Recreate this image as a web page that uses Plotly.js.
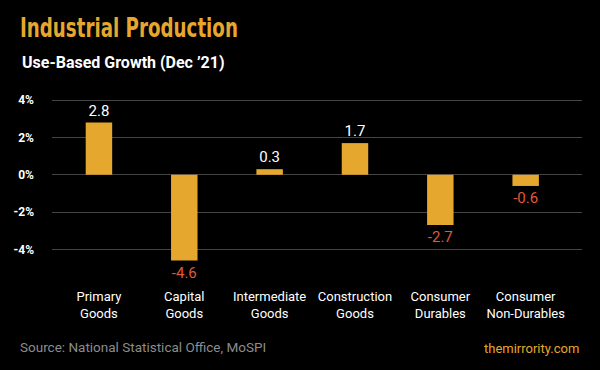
<!DOCTYPE html>
<html>
<head>
<meta charset="utf-8">
<script src="https://cdn.plot.ly/plotly-3.0.1.min.js"></script>
<style>html,body{margin:0;padding:0;background:#000;}#chart{width:600px;height:370px;}</style>
</head>
<body>
<div id="chart"></div>
<script>
const categories = ["Primary<br>Goods", "Capital<br>Goods", "Intermediate<br>Goods", "Construction<br>Goods", "Consumer<br>Durables", "Consumer<br>Non-Durables"];
const growth = [2.8, -4.6, 0.3, 1.7, -2.7, -0.6];
const yTickVals = [-4, -2, 0, 2, 4];
const yTickText = ["-4%", "-2%", "0%", "2%", "4%"];

const ORANGE = "#E6A72E";
const RED = "#E0583C";

const trace = {
  type: "bar",
  x: categories,
  y: growth,
  width: 0.31,
  marker: {color: ORANGE},
  text: growth.map(v => v.toFixed(1)),
  textposition: "outside",
  constraintext: "none",
  cliponaxis: false,
  textfont: {family: "Roboto, sans-serif", size: 15, color: growth.map(v => v < 0 ? RED : "#FFFFFF")},
  hoverinfo: "none"
};

const layout = {
  width: 600, height: 370,
  paper_bgcolor: "#000", plot_bgcolor: "#000",
  margin: {l: 52, r: 18, t: 90, b: 100},
  showlegend: false,
  font: {family: "Roboto, sans-serif", color: "#fff"},
  title: {
    text: "Industrial Production",
    x: 20/600, xanchor: "left", xref: "container",
    y: 1 - 28/370, yanchor: "middle", yref: "container",
    font: {family: "'DejaVu Sans Condensed', 'Liberation Sans Narrow', sans-serif", size: 26, weight: "bold", color: ORANGE}
  },
  xaxis: {
    range: [-0.55, 5.66],
    showgrid: false, zeroline: false, showline: false, ticks: "",
    tickfont: {family: "Roboto, sans-serif", size: 13, color: "#fff"},
    ticklabelstandoff: 17,
    fixedrange: true
  },
  yaxis: {
    range: [-5.11, 4.55],
    tickvals: yTickVals, ticktext: yTickText,
    showgrid: true, gridcolor: "#444", gridwidth: 1,
    zeroline: true, zerolinecolor: "#444", zerolinewidth: 1,
    showline: false, ticks: "",
    tickfont: {family: "Roboto, sans-serif", size: 12, weight: "bold", color: "#fff"},
    ticklabelstandoff: 17,
    fixedrange: true
  },
  annotations: [
    {text: "Use-Based Growth (Dec ’21)", xref: "paper", yref: "paper", x: (20-52)/530, y: (270-62)/180,
     xanchor: "left", yanchor: "middle", showarrow: false,
     font: {family: "Roboto, sans-serif", size: 16, weight: "bold", color: "#fff"}},
    {text: "Source: National Statistical Office, MoSPI", xref: "paper", yref: "paper", x: (18-52)/530, y: (270-347)/180,
     xanchor: "left", yanchor: "middle", showarrow: false,
     font: {family: "Roboto, sans-serif", size: 13.5, color: "#8C8C8C"}},
    {text: "themirrority.com", xref: "paper", yref: "paper", x: (581-52)/530, y: (270-348)/180,
     xanchor: "right", yanchor: "middle", showarrow: false,
     font: {family: "Roboto, sans-serif", size: 13, color: ORANGE}}
  ]
};

Plotly.newPlot("chart", [trace], layout, {displayModeBar: false, staticPlot: true}).then(function () {
  // Narrow the title to resemble the condensed display face of the reference.
  const t = document.querySelector("#chart .gtitle");
  if (t) {
    const bb = t.getBBox();
    const target = 218;
    const sx = Math.min(1, target / bb.width);
    const x0 = bb.x;
    const prev = t.getAttribute("transform") || "";
    t.setAttribute("transform", prev + " translate(" + x0 + ",0) scale(" + sx + ",1) translate(" + (-x0) + ",0)");
  }
});
</script>
</body>
</html>
